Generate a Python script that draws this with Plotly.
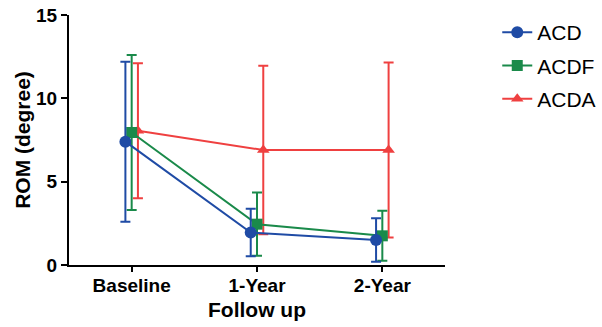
import numpy as np
import plotly.graph_objects as go

categories = ["Baseline", "1-Year", "2-Year"]
series_names = ["ACD", "ACDF", "ACDA"]
acd_mean = [7.4, 1.95, 1.5]
acd_err = [4.8, 1.42, 1.3]
acdf_mean = [7.95, 2.45, 1.75]
acdf_err = [4.65, 1.9, 1.5]
acda_mean = [8.05, 6.9, 6.9]
acda_err = [4.05, 5.05, 5.25]

colors = {"ACD": "#1F4BA5", "ACDF": "#1A8A4A", "ACDA": "#EF4040"}
symbols = {"ACD": "circle", "ACDF": "square", "ACDA": "triangle-up"}
sizes = {"ACD": 12, "ACDF": 11, "ACDA": 11}
offsets = {"ACD": -0.05, "ACDF": 0.0, "ACDA": 0.05}
data = {"ACD": (acd_mean, acd_err), "ACDF": (acdf_mean, acdf_err), "ACDA": (acda_mean, acda_err)}
rank = {"ACD": 1, "ACDF": 2, "ACDA": 3}

fig = go.Figure()
base_x = np.arange(len(categories))
for name in ["ACDA", "ACDF", "ACD"]:
    m, e = data[name]
    fig.add_trace(go.Scatter(
        x=base_x + offsets[name], y=m, name=name, mode="lines+markers",
        line=dict(color=colors[name], width=2),
        marker=dict(symbol=symbols[name], size=sizes[name], color=colors[name]),
        error_y=dict(type="data", array=e, visible=True, color=colors[name], thickness=2, width=5),
        legendrank=rank[name], legendgroup=name, cliponaxis=False,
    ))

font_family = "Liberation Sans, Arial, sans-serif"
fig.update_layout(
    width=602, height=327,
    margin=dict(l=69, r=157, t=15, b=62),
    plot_bgcolor="white", paper_bgcolor="white",
    font=dict(family=font_family, color="black"),
    showlegend=True,
    legend=dict(xref="container", yref="container", x=0.826, y=0.963, xanchor="left", yanchor="top",
                font=dict(size=21, family=font_family, color="black"),
                tracegroupgap=3, traceorder="grouped", bgcolor="rgba(0,0,0,0)"),
    xaxis=dict(range=[-0.5, 2.5], tickmode="array", tickvals=list(base_x), ticktext=categories,
               showgrid=False, zeroline=False, showline=True, linecolor="black", linewidth=2,
               ticks="outside", ticklen=5, tickwidth=2, tickcolor="black", automargin=False,
               ticklabelstandoff=-3,
               tickfont=dict(size=19, family=font_family, weight="bold"),
               title=dict(text="<b>Follow up</b>", font=dict(size=21), standoff=8)),
    yaxis=dict(range=[0, 15], tickvals=[0, 5, 10, 15],
               showgrid=False, zeroline=False, showline=True, linecolor="black", linewidth=2,
               ticks="outside", ticklen=6, tickwidth=2, tickcolor="black", automargin=False,
               tickfont=dict(size=19, family=font_family, weight="bold"),
               title=dict(text="<b>ROM (degree)</b>", font=dict(size=21), standoff=0)),
)
fig.write_html("out.html", config={"displayModeBar": False},
               post_script="document.body.style.margin='0';document.body.style.padding='0';")
